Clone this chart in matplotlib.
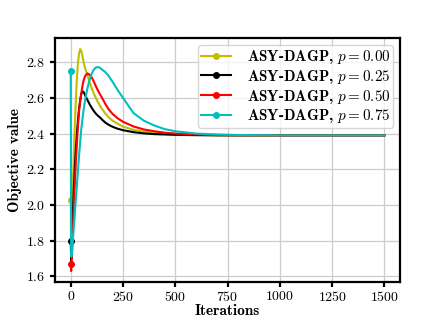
import matplotlib

matplotlib.use("Agg")
import matplotlib.pyplot as plt  # noqa: E402

# values
iters = [0, 2, 5, 10, 15, 20, 25, 30, 35, 40, 45, 50, 55, 60, 65, 70, 80, 90,
         100, 110, 120, 130, 140, 150, 165, 180, 200, 225, 250, 300, 350, 400,
         450, 500, 600, 700, 800, 1000, 1250, 1500]

obj_p000 = [2.03, 1.70, 1.85, 2.10, 2.30, 2.46, 2.60, 2.72, 2.80, 2.85, 2.873,
            2.865, 2.84, 2.81, 2.783, 2.762, 2.725, 2.69, 2.655, 2.625, 2.60,
            2.577, 2.555, 2.537, 2.513, 2.493, 2.472, 2.455, 2.439, 2.421,
            2.411, 2.405, 2.40, 2.397, 2.393, 2.391, 2.39, 2.39, 2.39, 2.39]
obj_p025 = [1.80, 1.69, 1.78, 1.95, 2.10, 2.22, 2.32, 2.41, 2.48, 2.54, 2.585,
            2.62, 2.635, 2.635, 2.625, 2.612, 2.588, 2.565, 2.545, 2.527,
            2.512, 2.50, 2.49, 2.478, 2.462, 2.45, 2.438, 2.427, 2.419, 2.408,
            2.401, 2.397, 2.395, 2.393, 2.391, 2.39, 2.39, 2.39, 2.39, 2.39]
obj_p050 = [1.67, 1.63, 1.70, 1.85, 2.00, 2.13, 2.25, 2.36, 2.45, 2.53, 2.58,
            2.62, 2.66, 2.69, 2.71, 2.725, 2.737, 2.73, 2.715, 2.692, 2.666,
            2.641, 2.62, 2.60, 2.567, 2.538, 2.51, 2.485, 2.466, 2.44, 2.423,
            2.413, 2.405, 2.40, 2.395, 2.392, 2.391, 2.39, 2.39, 2.39]
obj_p075 = [2.75, 1.71, 1.72, 1.80, 1.88, 1.96, 2.04, 2.12, 2.20, 2.28, 2.35,
            2.42, 2.47, 2.52, 2.56, 2.595, 2.655, 2.70, 2.735, 2.758, 2.77,
            2.773, 2.768, 2.758, 2.745, 2.725, 2.69, 2.643, 2.60, 2.515, 2.472,
            2.445, 2.425, 2.413, 2.40, 2.395, 2.392, 2.39, 2.39, 2.39]

series = [
    (obj_p000, "y", "0.00"),
    (obj_p025, "k", "0.25"),
    (obj_p050, "r", "0.50"),
    (obj_p075, "c", "0.75"),
]

plt.rcParams["font.family"] = "cmr10"
plt.rcParams["mathtext.fontset"] = "cm"
plt.rcParams["axes.formatter.use_mathtext"] = True

fig, ax = plt.subplots(figsize=(4.44, 3.17), dpi=100)
for vals, color, p in series:
    ax.plot(iters, vals, color=color, lw=1.5, marker="o", markersize=4,
            markevery=[0], label=f"ASY-DAGP, $p = {p}$")

ax.grid(True, color="#cccccc", lw=0.9)
ax.set_axisbelow(True)
for sp in ax.spines.values():
    sp.set_linewidth(1.6)
ax.tick_params(width=1.6, length=3.5, labelsize=10)
ax.tick_params(axis="x", pad=2)
ax.set_xticks([0, 250, 500, 750, 1000, 1250, 1500])
ax.set_yticks([1.6, 1.8, 2.0, 2.2, 2.4, 2.6, 2.8])
ax.set_xlabel("Iterations", fontfamily="cmb10", fontsize=11, labelpad=0)
ax.set_ylabel("Objective value", fontfamily="cmb10", fontsize=11,
              labelpad=3)
ax.legend(loc="upper right", prop={"family": "cmb10", "size": 10.9},
          handlelength=2.0, handletextpad=1.0, labelspacing=0.12,
          borderpad=0.2, borderaxespad=0.45)

fig.subplots_adjust(left=0.124, right=0.901, bottom=0.11, top=0.88)
fig.savefig("out.png", dpi=100)
